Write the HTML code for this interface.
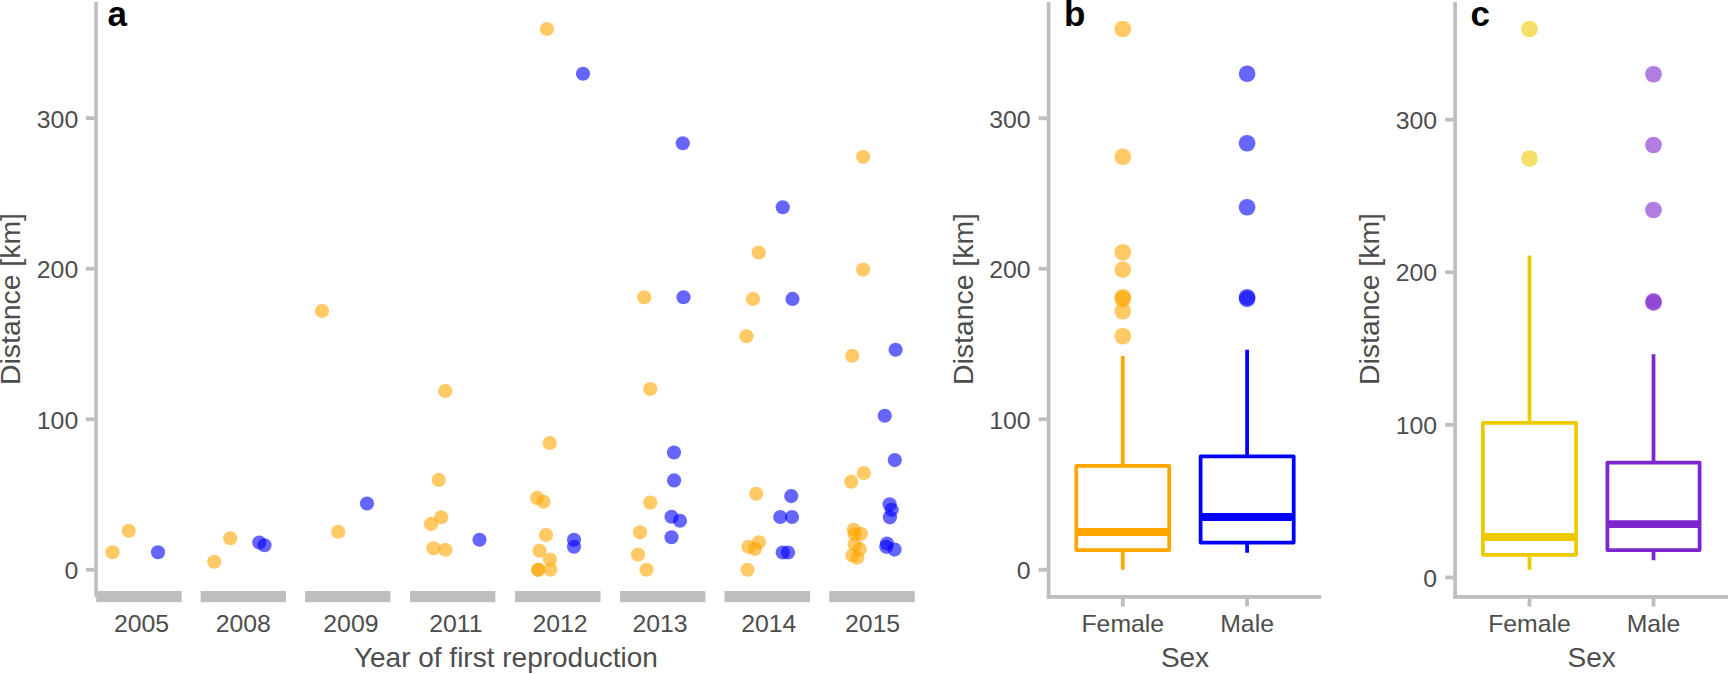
<!DOCTYPE html>
<html><head><meta charset="utf-8"><title>Distance plots</title>
<style>html,body{margin:0;padding:0;background:#fff}svg{display:block}text{font-family:"Liberation Sans",Arial,Helvetica,sans-serif;fill:#4D4D4D}</style></head><body>
<svg width="1728" height="674" viewBox="0 0 1728 674">
<rect width="1728" height="674" fill="#fff"/>
<g fill-opacity="0.6">
<circle cx="112.50" cy="552.25" r="7.10" fill="#FFA500"/>
<circle cx="128.75" cy="530.75" r="7.10" fill="#FFA500"/>
<circle cx="158.00" cy="552.25" r="7.10" fill="#0000FF"/>
<circle cx="214.25" cy="561.75" r="7.10" fill="#FFA500"/>
<circle cx="230.25" cy="538.25" r="7.10" fill="#FFA500"/>
<circle cx="259.25" cy="542.50" r="7.10" fill="#0000FF"/>
<circle cx="264.50" cy="545.25" r="7.10" fill="#0000FF"/>
<circle cx="338.25" cy="531.75" r="7.10" fill="#FFA500"/>
<circle cx="367.00" cy="503.50" r="7.10" fill="#0000FF"/>
<circle cx="322.00" cy="311.00" r="7.10" fill="#FFA500"/>
<circle cx="445.25" cy="391.00" r="7.10" fill="#FFA500"/>
<circle cx="438.75" cy="479.90" r="7.10" fill="#FFA500"/>
<circle cx="441.25" cy="517.25" r="7.10" fill="#FFA500"/>
<circle cx="431.00" cy="523.90" r="7.10" fill="#FFA500"/>
<circle cx="433.50" cy="548.25" r="7.10" fill="#FFA500"/>
<circle cx="445.50" cy="549.75" r="7.10" fill="#FFA500"/>
<circle cx="479.50" cy="539.75" r="7.10" fill="#0000FF"/>
<circle cx="547.00" cy="29.00" r="7.10" fill="#FFA500"/>
<circle cx="583.00" cy="73.75" r="7.10" fill="#0000FF"/>
<circle cx="549.75" cy="443.00" r="7.10" fill="#FFA500"/>
<circle cx="537.00" cy="497.90" r="7.10" fill="#FFA500"/>
<circle cx="543.60" cy="501.75" r="7.10" fill="#FFA500"/>
<circle cx="546.00" cy="535.00" r="7.10" fill="#FFA500"/>
<circle cx="539.50" cy="550.75" r="7.10" fill="#FFA500"/>
<circle cx="550.00" cy="559.50" r="7.10" fill="#FFA500"/>
<circle cx="538.25" cy="569.75" r="7.10" fill="#FFA500"/>
<circle cx="538.25" cy="569.75" r="7.10" fill="#FFA500"/>
<circle cx="550.50" cy="569.75" r="7.10" fill="#FFA500"/>
<circle cx="574.00" cy="539.75" r="7.10" fill="#0000FF"/>
<circle cx="574.00" cy="546.75" r="7.10" fill="#0000FF"/>
<circle cx="682.75" cy="143.25" r="7.10" fill="#0000FF"/>
<circle cx="644.25" cy="297.25" r="7.10" fill="#FFA500"/>
<circle cx="683.50" cy="297.25" r="7.10" fill="#0000FF"/>
<circle cx="650.25" cy="389.00" r="7.10" fill="#FFA500"/>
<circle cx="674.00" cy="452.50" r="7.10" fill="#0000FF"/>
<circle cx="674.10" cy="480.40" r="7.10" fill="#0000FF"/>
<circle cx="650.25" cy="502.50" r="7.10" fill="#FFA500"/>
<circle cx="671.50" cy="516.75" r="7.10" fill="#0000FF"/>
<circle cx="680.00" cy="520.75" r="7.10" fill="#0000FF"/>
<circle cx="640.00" cy="532.25" r="7.10" fill="#FFA500"/>
<circle cx="671.50" cy="537.25" r="7.10" fill="#0000FF"/>
<circle cx="638.00" cy="554.50" r="7.10" fill="#FFA500"/>
<circle cx="646.50" cy="569.75" r="7.10" fill="#FFA500"/>
<circle cx="782.75" cy="207.25" r="7.10" fill="#0000FF"/>
<circle cx="758.75" cy="252.50" r="7.10" fill="#FFA500"/>
<circle cx="753.00" cy="298.90" r="7.10" fill="#FFA500"/>
<circle cx="792.50" cy="298.90" r="7.10" fill="#0000FF"/>
<circle cx="746.40" cy="336.25" r="7.10" fill="#FFA500"/>
<circle cx="756.25" cy="493.75" r="7.10" fill="#FFA500"/>
<circle cx="791.25" cy="496.10" r="7.10" fill="#0000FF"/>
<circle cx="780.25" cy="517.00" r="7.10" fill="#0000FF"/>
<circle cx="792.00" cy="517.00" r="7.10" fill="#0000FF"/>
<circle cx="759.00" cy="542.25" r="7.10" fill="#FFA500"/>
<circle cx="748.50" cy="546.75" r="7.10" fill="#FFA500"/>
<circle cx="755.00" cy="549.00" r="7.10" fill="#FFA500"/>
<circle cx="782.75" cy="552.50" r="7.10" fill="#0000FF"/>
<circle cx="788.00" cy="552.50" r="7.10" fill="#0000FF"/>
<circle cx="747.50" cy="569.75" r="7.10" fill="#FFA500"/>
<circle cx="863.10" cy="156.75" r="7.10" fill="#FFA500"/>
<circle cx="863.10" cy="269.60" r="7.10" fill="#FFA500"/>
<circle cx="852.25" cy="355.75" r="7.10" fill="#FFA500"/>
<circle cx="895.60" cy="349.75" r="7.10" fill="#0000FF"/>
<circle cx="884.75" cy="415.75" r="7.10" fill="#0000FF"/>
<circle cx="894.80" cy="460.10" r="7.10" fill="#0000FF"/>
<circle cx="863.80" cy="473.10" r="7.10" fill="#FFA500"/>
<circle cx="851.20" cy="481.70" r="7.10" fill="#FFA500"/>
<circle cx="889.60" cy="504.30" r="7.10" fill="#0000FF"/>
<circle cx="891.70" cy="509.80" r="7.10" fill="#0000FF"/>
<circle cx="889.90" cy="517.30" r="7.10" fill="#0000FF"/>
<circle cx="853.75" cy="529.80" r="7.10" fill="#FFA500"/>
<circle cx="854.80" cy="534.30" r="7.10" fill="#FFA500"/>
<circle cx="861.00" cy="533.75" r="7.10" fill="#FFA500"/>
<circle cx="854.70" cy="544.20" r="7.10" fill="#FFA500"/>
<circle cx="859.70" cy="549.20" r="7.10" fill="#FFA500"/>
<circle cx="852.40" cy="555.60" r="7.10" fill="#FFA500"/>
<circle cx="857.30" cy="557.70" r="7.10" fill="#FFA500"/>
<circle cx="887.00" cy="543.60" r="7.10" fill="#0000FF"/>
<circle cx="886.25" cy="546.80" r="7.10" fill="#0000FF"/>
<circle cx="894.60" cy="549.60" r="7.10" fill="#0000FF"/>
</g>
<rect x="94.25" y="2" width="3.6" height="594.8" fill="#BEBEBE"/>
<rect x="86" y="116.25" width="8.5" height="3.8" fill="#BEBEBE"/>
<text x="78.2" y="127.80" font-size="24.8" text-anchor="end">300</text>
<rect x="86" y="266.85" width="8.5" height="3.8" fill="#BEBEBE"/>
<text x="78.2" y="278.40" font-size="24.8" text-anchor="end">200</text>
<rect x="86" y="417.35" width="8.5" height="3.8" fill="#BEBEBE"/>
<text x="78.2" y="428.90" font-size="24.8" text-anchor="end">100</text>
<rect x="86" y="567.85" width="8.5" height="3.8" fill="#BEBEBE"/>
<text x="78.2" y="579.40" font-size="24.8" text-anchor="end">0</text>
<rect x="96.25" y="591" width="85.4" height="11.2" fill="#BEBEBE"/>
<rect x="200.60" y="591" width="85.4" height="11.2" fill="#BEBEBE"/>
<rect x="305.10" y="591" width="85.4" height="11.2" fill="#BEBEBE"/>
<rect x="410.00" y="591" width="85.4" height="11.2" fill="#BEBEBE"/>
<rect x="515.10" y="591" width="85.4" height="11.2" fill="#BEBEBE"/>
<rect x="620.00" y="591" width="85.4" height="11.2" fill="#BEBEBE"/>
<rect x="724.60" y="591" width="85.4" height="11.2" fill="#BEBEBE"/>
<rect x="829.30" y="591" width="85.4" height="11.2" fill="#BEBEBE"/>
<text x="141.50" y="632.4" font-size="24.8" text-anchor="middle">2005</text>
<text x="243.25" y="632.4" font-size="24.8" text-anchor="middle">2008</text>
<text x="350.90" y="632.4" font-size="24.8" text-anchor="middle">2009</text>
<text x="455.90" y="632.4" font-size="24.8" text-anchor="middle">2011</text>
<text x="560.00" y="632.4" font-size="24.8" text-anchor="middle">2012</text>
<text x="660.10" y="632.4" font-size="24.8" text-anchor="middle">2013</text>
<text x="768.75" y="632.4" font-size="24.8" text-anchor="middle">2014</text>
<text x="872.60" y="632.4" font-size="24.8" text-anchor="middle">2015</text>
<text x="505.9" y="667.3" font-size="28" text-anchor="middle">Year of first reproduction</text>
<text transform="translate(20.2,299) rotate(-90)" font-size="28.4" text-anchor="middle">Distance [km]</text>
<text x="107.5" y="26" font-size="35" font-weight="bold" style="fill:#000">a</text>
<rect x="1046.75" y="2" width="3.7" height="596.8" fill="#BEBEBE"/>
<rect x="1046.75" y="595" width="274.45" height="3.8" fill="#BEBEBE"/>
<rect x="1038.65" y="116.35" width="8.3" height="3.8" fill="#BEBEBE"/>
<text x="1030.60" y="127.90" font-size="24.8" text-anchor="end">300</text>
<rect x="1038.65" y="266.85" width="8.3" height="3.8" fill="#BEBEBE"/>
<text x="1030.60" y="278.40" font-size="24.8" text-anchor="end">200</text>
<rect x="1038.65" y="417.35" width="8.3" height="3.8" fill="#BEBEBE"/>
<text x="1030.60" y="428.90" font-size="24.8" text-anchor="end">100</text>
<rect x="1038.65" y="567.85" width="8.3" height="3.8" fill="#BEBEBE"/>
<text x="1030.60" y="579.40" font-size="24.8" text-anchor="end">0</text>
<rect x="1120.90" y="598" width="3.8" height="8.5" fill="#BEBEBE"/>
<text x="1122.80" y="632.4" font-size="24.8" text-anchor="middle">Female</text>
<rect x="1245.20" y="598" width="3.8" height="8.5" fill="#BEBEBE"/>
<text x="1247.10" y="632.4" font-size="24.8" text-anchor="middle">Male</text>
<text x="1185.00" y="667.3" font-size="28" text-anchor="middle">Sex</text>
<text transform="translate(972.90,299) rotate(-90)" font-size="28.4" text-anchor="middle">Distance [km]</text>
<text x="1064.00" y="26" font-size="35" font-weight="bold" style="fill:#000">b</text>
<g fill="#FFA500" fill-opacity="0.6">
<circle cx="1122.80" cy="29.00" r="8.35"/>
<circle cx="1122.80" cy="156.75" r="8.35"/>
<circle cx="1122.80" cy="252.25" r="8.35"/>
<circle cx="1122.80" cy="269.60" r="8.35"/>
<circle cx="1122.80" cy="297.25" r="8.35"/>
<circle cx="1122.80" cy="298.90" r="8.35"/>
<circle cx="1122.80" cy="311.25" r="8.35"/>
<circle cx="1122.80" cy="336.25" r="8.35"/>
</g>
<g stroke="#FFA500" fill="none" stroke-width="3.75">
<path d="M1122.80 356.00V465.90M1122.80 550.10V569.75"/>
<rect x="1076.30" y="465.90" width="92.90" height="84.20" stroke-linejoin="round"/>
<path d="M1076.30 532.00H1169.20" stroke-width="7.8"/>
</g>
<g fill="#0000FF" fill-opacity="0.6">
<circle cx="1247.10" cy="73.75" r="8.35"/>
<circle cx="1247.10" cy="143.25" r="8.35"/>
<circle cx="1247.10" cy="207.25" r="8.35"/>
<circle cx="1247.10" cy="297.25" r="8.35"/>
<circle cx="1247.10" cy="298.90" r="8.35"/>
</g>
<g stroke="#0000FF" fill="none" stroke-width="3.75">
<path d="M1247.10 349.75V456.40M1247.10 542.60V552.75"/>
<rect x="1200.60" y="456.40" width="93.10" height="86.20" stroke-linejoin="round"/>
<path d="M1200.60 517.00H1293.70" stroke-width="7.8"/>
</g>
<rect x="1453.25" y="2" width="3.7" height="596.8" fill="#BEBEBE"/>
<rect x="1453.25" y="595" width="274.75" height="3.8" fill="#BEBEBE"/>
<rect x="1445.15" y="117.75" width="8.3" height="3.8" fill="#BEBEBE"/>
<text x="1437.00" y="128.70" font-size="24.8" text-anchor="end">300</text>
<rect x="1445.15" y="270.35" width="8.3" height="3.8" fill="#BEBEBE"/>
<text x="1437.00" y="281.30" font-size="24.8" text-anchor="end">200</text>
<rect x="1445.15" y="422.95" width="8.3" height="3.8" fill="#BEBEBE"/>
<text x="1437.00" y="433.90" font-size="24.8" text-anchor="end">100</text>
<rect x="1445.15" y="575.55" width="8.3" height="3.8" fill="#BEBEBE"/>
<text x="1437.00" y="586.50" font-size="24.8" text-anchor="end">0</text>
<rect x="1527.60" y="598" width="3.8" height="8.5" fill="#BEBEBE"/>
<text x="1529.50" y="632.4" font-size="24.8" text-anchor="middle">Female</text>
<rect x="1651.60" y="598" width="3.8" height="8.5" fill="#BEBEBE"/>
<text x="1653.50" y="632.4" font-size="24.8" text-anchor="middle">Male</text>
<text x="1591.60" y="667.3" font-size="28" text-anchor="middle">Sex</text>
<text transform="translate(1379.10,299) rotate(-90)" font-size="28.4" text-anchor="middle">Distance [km]</text>
<text x="1470.50" y="26" font-size="35" font-weight="bold" style="fill:#000">c</text>
<g fill="#EEC900" fill-opacity="0.6">
<circle cx="1529.50" cy="29.00" r="8.35"/>
<circle cx="1529.50" cy="158.50" r="8.35"/>
</g>
<g stroke="#EEC900" fill="none" stroke-width="3.75">
<path d="M1529.50 255.50V422.90M1529.50 554.75V569.75"/>
<rect x="1482.90" y="422.90" width="93.20" height="131.85" stroke-linejoin="round"/>
<path d="M1482.90 537.00H1576.10" stroke-width="7.8"/>
</g>
<g fill="#7D26CD" fill-opacity="0.6">
<circle cx="1653.50" cy="74.25" r="8.35"/>
<circle cx="1653.50" cy="145.00" r="8.35"/>
<circle cx="1653.50" cy="210.00" r="8.35"/>
<circle cx="1653.50" cy="301.30" r="8.35"/>
<circle cx="1653.50" cy="302.70" r="8.35"/>
</g>
<g stroke="#7D26CD" fill="none" stroke-width="3.75">
<path d="M1653.50 354.25V462.50M1653.50 550.10V560.25"/>
<rect x="1607.40" y="462.50" width="92.20" height="87.60" stroke-linejoin="round"/>
<path d="M1607.40 524.10H1699.60" stroke-width="7.8"/>
</g>
</svg></body></html>
